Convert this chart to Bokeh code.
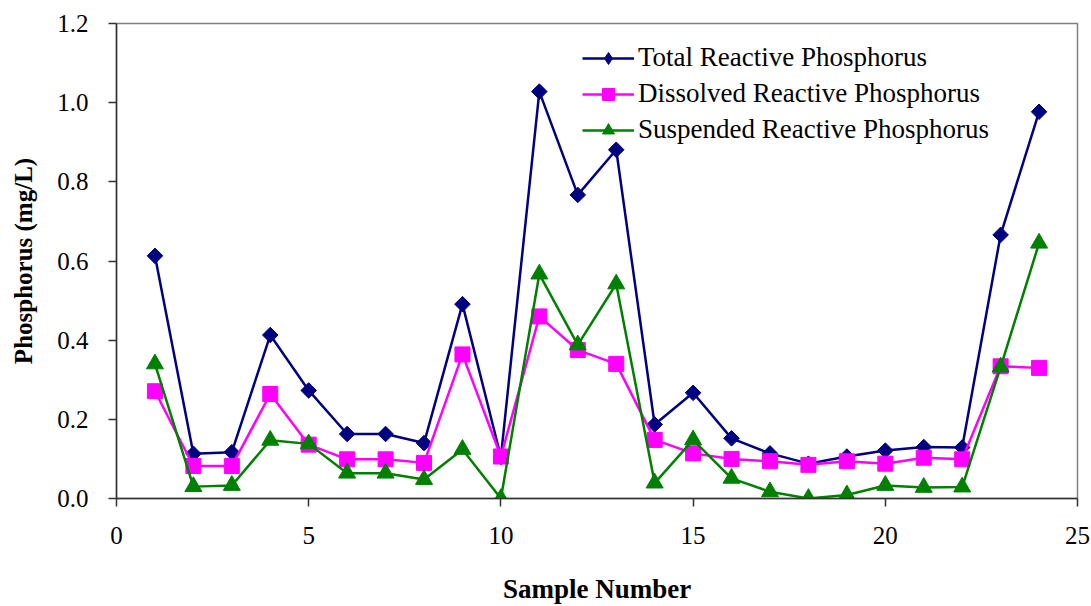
import math
from bokeh.plotting import figure
from bokeh.models import Range1d, FixedTicker, NumeralTickFormatter, Legend, LegendItem
from bokeh.embed import file_html
from bokeh.resources import INLINE

# ---- data ----
sample = list(range(1, 25))
total_rp = [0.613, 0.113, 0.117, 0.413, 0.273, 0.163, 0.163, 0.140, 0.491, 0.105,
            1.028, 0.767, 0.881, 0.187, 0.267, 0.152, 0.114, 0.088, 0.106, 0.121,
            0.130, 0.129, 0.666, 0.977]
dissolved_rp = [0.271, 0.082, 0.082, 0.264, 0.136, 0.099, 0.099, 0.090, 0.364, 0.106,
                0.460, 0.375, 0.340, 0.148, 0.114, 0.100, 0.094, 0.085, 0.094, 0.088,
                0.103, 0.099, 0.334, 0.330]
suspended_rp = [0.340, 0.030, 0.033, 0.147, 0.138, 0.064, 0.064, 0.048, 0.124, 0.000,
                0.567, 0.388, 0.542, 0.039, 0.148, 0.051, 0.017, 0.000, 0.009, 0.033,
                0.028, 0.029, 0.332, 0.645]
series_names = ["Total Reactive Phosphorus", "Dissolved Reactive Phosphorus",
                "Suspended Reactive Phosphorus"]
x_ticks = [0, 5, 10, 15, 20, 25]
y_ticks = [0.0, 0.2, 0.4, 0.6, 0.8, 1.0, 1.2]

FONT = "Liberation Serif"

p = figure(width=1091, height=606, output_backend="svg", toolbar_location=None,
           x_range=Range1d(0, 25), y_range=Range1d(0, 1.2),
           min_border_left=116, min_border_right=14, min_border_top=23, min_border_bottom=108)

p.xgrid.visible = False
p.ygrid.visible = False
p.outline_line_color = "#808080"
p.outline_line_width = 1.5
p.background_fill_color = "white"
p.border_fill_color = "white"

# axes
p.xaxis.ticker = FixedTicker(ticks=x_ticks)
p.yaxis.ticker = FixedTicker(ticks=y_ticks)
p.yaxis.formatter = NumeralTickFormatter(format="0.0")
for ax in (p.xaxis[0], p.yaxis[0]):
    ax.axis_line_color = "#333333"
    ax.axis_line_width = 1.5
    ax.major_tick_line_color = "#333333"
    ax.major_tick_line_width = 1.5
    ax.major_tick_in = 0
    ax.major_tick_out = 8
    ax.minor_tick_line_color = None
    ax.major_label_text_font = FONT
    ax.major_label_text_font_size = "25px"
    ax.major_label_text_color = "black"
    ax.axis_label_text_font = FONT
    ax.axis_label_text_font_style = "bold"
    ax.axis_label_text_color = "black"
p.xaxis.axis_label = "Sample Number"
p.yaxis.axis_label = "Phosphorus (mg/L)"
p.xaxis.axis_label_text_font_size = "27px"
p.yaxis.axis_label_text_font_size = "25px"
p.xaxis.major_label_standoff = 20
p.yaxis.major_label_standoff = 20
p.xaxis.axis_label_standoff = 27
p.yaxis.axis_label_standoff = 17

# series
r1l = p.line(sample, total_rp, line_color="#000080", line_width=2.5)
r1m = p.scatter(sample, total_rp, marker="square", angle=math.pi / 4, size=11,
                fill_color="#000080", line_color="#000080")
r2l = p.line(sample, dissolved_rp, line_color="#FF00FF", line_width=2.5)
r2m = p.scatter(sample, dissolved_rp, marker="square", size=15, fill_color="#FF00FF",
                line_color="#FF00FF")
r3l = p.line(sample, suspended_rp, line_color="#008000", line_width=2.5)
r3m = p.scatter(sample, suspended_rp, marker="triangle", size=17, fill_color="#008000",
                line_color="#008000")
# legend swatch: diamond marker for the same series, not drawn in the plot area
r1leg = p.scatter(sample, total_rp, marker="diamond", size=16,
                  fill_color="#000080", line_color="#000080", visible=False)

legend = Legend(items=[
    LegendItem(label=series_names[0], renderers=[r1l, r1leg]),
    LegendItem(label=series_names[1], renderers=[r2l, r2m]),
    LegendItem(label=series_names[2], renderers=[r3l, r3m]),
], location=(466, 353))
legend.border_line_color = None
legend.background_fill_alpha = 0
legend.padding = 0
legend.margin = 0
legend.spacing = 5
legend.glyph_width = 52
legend.glyph_height = 30
legend.label_height = 30
legend.label_standoff = 4
legend.label_text_font = FONT
legend.label_text_font_size = "27px"
legend.label_text_color = "black"
p.add_layout(legend, "center")

open("out.html", "w").write(file_html(p, INLINE))
